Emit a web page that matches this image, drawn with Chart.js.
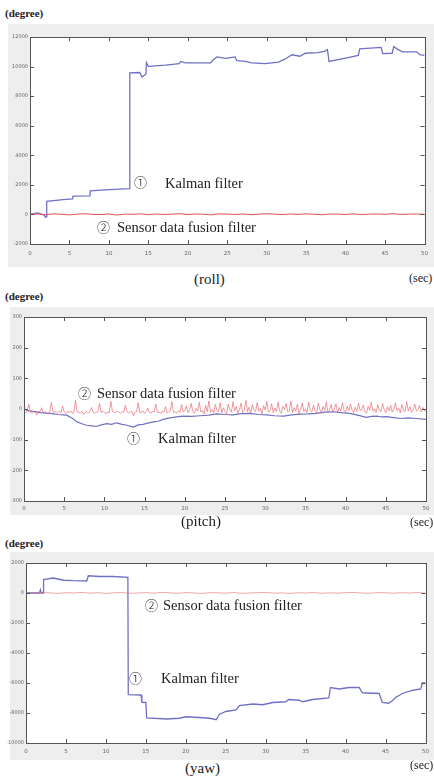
<!DOCTYPE html>
<html><head><meta charset="utf-8">
<script src="https://cdn.jsdelivr.net/npm/chart.js@4"></script>
<style>
body{margin:0;width:434px;height:776px;background:#fff;position:relative;overflow:hidden;font-family:"Liberation Serif","DejaVu Serif",serif;}
.panel{position:absolute;background:#eeeeee;}
canvas{position:absolute;display:block;}
.t{position:absolute;white-space:nowrap;color:#222;line-height:1;}
.deg{font-size:11px;font-weight:bold;}
.cap{font-size:15px;}
.sec{font-size:12px;}
.ann{font-size:14.5px;}
.ci{font-family:"Noto Sans CJK JP","DejaVu Sans",sans-serif;font-size:13px;font-weight:300;}
</style></head>
<body>
<div class="panel" style="left:8px;top:24px;width:426px;height:243px;"></div>
<div class="panel" style="left:10px;top:307px;width:424px;height:208px;"></div>
<div class="panel" style="left:10px;top:552px;width:424px;height:208px;"></div>
<canvas id="c1" width="434" height="243" style="left:0;top:24px;"></canvas>
<canvas id="c2" width="434" height="208" style="left:0;top:307px;"></canvas>
<canvas id="c3" width="434" height="208" style="left:0;top:552px;"></canvas>

<div class="t deg" style="left:5px;top:8px;">(degree)</div>
<div class="t cap" style="left:194px;top:272px;">(roll)</div>
<div class="t sec" style="left:409px;top:272px;">(sec)</div>

<div class="t deg" style="left:5px;top:291px;">(degree)</div>
<div class="t cap" style="left:181px;top:514px;">(pitch)</div>
<div class="t sec" style="left:410px;top:516px;">(sec)</div>

<div class="t deg" style="left:5px;top:538px;">(degree)</div>
<div class="t cap" style="left:185px;top:761px;">(yaw)</div>
<div class="t sec" style="left:410px;top:759px;">(sec)</div>

<!-- annotations -->
<div class="t ci" style="left:134px;top:175px;">①</div>
<div class="t ann" style="left:165px;top:176px;">Kalman filter</div>
<div class="t ci" style="left:97px;top:220px;">②</div>
<div class="t ann" style="left:117px;top:220px;">Sensor data fusion filter</div>

<div class="t ci" style="left:78px;top:386px;">②</div>
<div class="t ann" style="left:97px;top:386px;">Sensor data fusion filter</div>
<div class="t ci" style="left:127px;top:431px;">①</div>
<div class="t ann" style="left:158px;top:431px;">Kalman filter</div>

<div class="t ci" style="left:145px;top:598px;">②</div>
<div class="t ann" style="left:163px;top:598px;">Sensor data fusion filter</div>
<div class="t ci" style="left:129px;top:671px;">①</div>
<div class="t ann" style="left:161px;top:671px;">Kalman filter</div>

<script>
// ---------- data ----------
const timeTicks = [0,5,10,15,20,25,30,35,40,45,50];

const rollYTicks = [12000,10000,8000,6000,4000,2000,0,-2000];
const rollKalmanT = [0,1,1.8,1.95,2.08,2.12,4.2,5.4,5.45,7.6,7.65,10,12.6,12.65,13.9,14.2,14.7,14.75,15,17.2,18.9,19.1,19.7,22.9,23.1,23.7,24.8,26,26.2,27.3,28.1,29.8,31.5,32.3,33.2,34.2,34.9,36.5,37.4,37.7,37.9,40.3,41.6,41.8,44.5,44.7,45.9,46.1,46.5,47.2,49,49.4,50];
const rollKalmanV = [0,100,-50,-200,-150,880,1000,1050,1240,1250,1600,1680,1750,9580,9600,9300,9500,10280,10020,10100,10200,10350,10250,10250,10400,10650,10550,10650,10400,10350,10250,10200,10300,10500,10800,10700,10900,10950,11050,11150,10350,10600,10750,11200,11300,10880,10900,11350,11200,11000,11000,10800,10750];
const rollFusionV = [0,30,-20,40,10,-30,20,50,0,-10,30,-40,20,10,40,-20,30,0,20,50,-10,30,10,-30,40,20,0,30,-20,10,50,20,-10,30,0,40,10,-20,30,20,0,40,-10,20,30,10,50,0,20,30,10];

const pitchYTicks = [300,200,100,0,-100,-200,-300];
const pitchKalmanT = [0,0.6,1.2,2,3.2,4.2,5.3,6,6.6,7.2,7.8,8.4,9,9.6,10.3,10.9,11.5,12.2,12.8,13.6,14.2,14.8,15.4,16.1,16.7,17.3,18,18.6,19.2,19.8,20.8,21.9,23,24,25,26,27,28.1,29.2,30.2,31.2,32.3,33.3,34.3,35.4,36.4,37.4,38.5,39.5,40.5,41.5,42.6,43.2,43.9,44.5,45.1,46,46.8,47.8,48.8,50];
const pitchKalmanV = [0,-6,-8,-12,-14,-18,-20,-30,-42,-48,-53,-55,-57,-52,-48,-50,-45,-50,-53,-59,-52,-50,-46,-42,-40,-34,-30,-27,-25,-23,-24,-22,-20,-16,-18,-19,-15,-14,-18,-19,-22,-23,-19,-17,-16,-14,-10,-9,-12,-14,-20,-27,-24,-23,-26,-25,-28,-31,-29,-31,-34];
const pitchFusionV = [
 -8,-12,-6,15,-10,-14,-9,-11,-20,-7,-10,4,-13,-9,-12,-16,-8,22,-11,-10,
 -9,-13,-7,-12,10,-10,-15,-8,-11,-6,-14,-12,28,-9,-10,-13,-7,-18,-11,-9,
 -12,-8,5,-10,-14,-11,-9,18,-12,-7,-10,-16,-9,-13,25,-8,-11,-12,-6,-10,
 -14,-9,-11,12,-8,-13,-10,-7,-22,-11,-9,20,-12,-10,-6,-14,-9,3,-11,-13,
 -8,-10,16,-12,-9,-15,-7,-11,8,-13,-10,-6,24,-12,-9,-14,-5,-11,14,-10,
 -6,10,-12,-3,18,-9,-14,2,-7,22,-10,-4,-16,12,-8,26,-11,-2,-13,15,
 -5,-9,20,-12,4,-7,-18,16,-3,-10,24,-6,8,-14,-2,19,-11,-5,28,-8,
 6,-13,14,-4,-9,21,-7,2,-16,11,-3,25,-10,-5,17,-12,3,-8,22,-6,
 -14,9,-2,18,-9,-5,26,-11,4,-7,15,-15,-3,20,-8,1,-12,23,-4,-9,
 12,-6,-16,19,-2,-10,8,-5,24,-13,-3,14,-8,-1,17,-11,5,-7,21,-4,
 -10,10,-6,16,-3,-12,6,-8,19,-5,-2,13,-9,-14,9,-4,22,-7,0,-11,
 14,-5,-8,18,-3,-12,7,-6,12,-10,-2,20,-7,3,-13,15,-4,-9,24,-6,
 8,-11,-3,16,-7,-2,11,-9,5,-5,-8];

const yawYTicks = [2000,0,-2000,-4000,-6000,-8000,-10000];
const yawKalmanT = [0,1.7,1.8,1.9,2.15,2.2,3.4,4.7,5.9,7.6,7.8,9.2,10.9,12.75,12.8,14.4,14.5,15.0,15.1,17.6,19.2,20,21.7,23,23.8,24.2,25,26.3,26.7,28.4,29.6,30.9,32.5,32.9,34.2,34.6,35.9,37.9,38.1,39.2,40.4,41.7,42.1,44.2,44.6,45.4,45.8,46.3,47.1,48.3,49.4,49.6,50];
const yawKalmanV = [0,0,200,0,0,890,1000,850,820,800,1150,1100,1100,1050,-6780,-6800,-7290,-7300,-8330,-8400,-8350,-8250,-8300,-8350,-8450,-8100,-7900,-7800,-7500,-7400,-7450,-7300,-7250,-7100,-7150,-7250,-7100,-7000,-6300,-6400,-6300,-6300,-6650,-6700,-7300,-7350,-7200,-6950,-6700,-6500,-6400,-6000,-6000];
const yawFusionV = [0,-20,30,10,-30,20,0,40,-10,20,-30,10,30,-20,0,20,-10,40,10,-20,30,0,-30,20,10,-10,30,-20,0,20,40,-10,10,-30,20,0,30,-20,10,-10,20,40,0,-20,30,10,-10,20,0,30,-10];

// ---------- helpers ----------
const KALMAN = 'rgb(112,112,196)';
const FUSION = 'rgb(225,80,85)';
function pts(T, V){ return V.map((v,i)=>({x:T[i], y:v})); }
function evenPts(V, step){ return V.map((v,i)=>({x:i*step, y:v})); }

const framePlugin = {
  id:'frame',
  beforeDraw(chart){
    const {ctx, chartArea:a} = chart;
    ctx.save(); ctx.fillStyle='#fff';
    ctx.fillRect(a.left, a.top, a.right-a.left, a.bottom-a.top);
    ctx.restore();
  },
  afterDraw(chart){
    const {ctx, chartArea:a} = chart;
    const xs = chart.scales.x, ys = chart.scales.y;
    ctx.save();
    ctx.strokeStyle='#555'; ctx.lineWidth=1;
    ctx.strokeRect(Math.round(a.left)+0.5, Math.round(a.top)+0.5, Math.round(a.right-a.left), Math.round(a.bottom-a.top));
    ctx.beginPath();
    xs.ticks.forEach(t=>{
      const px = Math.round(xs.getPixelForValue(t.value))+0.5;
      if (px < a.left+2 || px > a.right-2) return;
      ctx.moveTo(px, a.bottom); ctx.lineTo(px, a.bottom-4);
      ctx.moveTo(px, a.top); ctx.lineTo(px, a.top+4);
    });
    ys.ticks.forEach(t=>{
      const py = Math.round(ys.getPixelForValue(t.value))+0.5;
      if (py < a.top+2 || py > a.bottom-2) return;
      ctx.moveTo(a.left, py); ctx.lineTo(a.left+4, py);
      ctx.moveTo(a.right, py); ctx.lineTo(a.right-4, py);
    });
    ctx.stroke();
    ctx.restore();
  }
};

function makeChart(id, datasets, yTicks, lay){
  new Chart(document.getElementById(id), {
    type:'line',
    data:{datasets},
    options:{
      responsive:false, animation:false, parsing:false, normalized:true,
      layout:{padding:{top:lay.top, right:lay.right, left:0, bottom:0}},
      elements:{point:{radius:0}, line:{tension:0, borderWidth:1}},
      plugins:{legend:{display:false}, tooltip:{enabled:false}},
      scales:{
        x:{type:'linear', min:0, max:50,
           afterBuildTicks(s){ s.ticks = timeTicks.map(v=>({value:v})); },
           afterFit(s){ s.height = lay.xh; },
           grid:{display:false, drawTicks:false}, border:{display:false},
           ticks:{font:{size:5.5, family:'DejaVu Sans'}, color:'#666', padding:lay.xpad, maxRotation:0, autoSkip:false, callback:v=>String(v)}},
        y:{type:'linear', min:yTicks[yTicks.length-1], max:yTicks[0],
           afterBuildTicks(s){ s.ticks = yTicks.slice().reverse().map(v=>({value:v})); },
           afterFit(s){ s.width = lay.yw; },
           grid:{display:false, drawTicks:false}, border:{display:false},
           ticks:{font:{size:5, family:'DejaVu Sans'}, color:'#666', padding:2, autoSkip:false, callback:v=>String(v)}}
      }
    },
    plugins:[framePlugin]
  });
}

makeChart('c1', [
  {data:evenPts(rollFusionV,1), borderColor:FUSION, borderWidth:1},
  {data:pts(rollKalmanT, rollKalmanV), borderColor:KALMAN, borderWidth:1.3}
], rollYTicks, {top:13, right:7, xh:23, yw:30, xpad:6});

makeChart('c2', [
  {data:evenPts(pitchFusionV,0.2), borderColor:'rgba(232,105,112,0.85)', borderWidth:0.8},
  {data:pts(pitchKalmanT, pitchKalmanV), borderColor:KALMAN, borderWidth:1.2}
], pitchYTicks, {top:10, right:8, xh:14, yw:24, xpad:4});

makeChart('c3', [
  {data:evenPts(yawFusionV,1), borderColor:'rgba(225,110,110,0.6)', borderWidth:1},
  {data:pts(yawKalmanT, yawKalmanV), borderColor:KALMAN, borderWidth:1.3}
], yawYTicks, {top:11, right:7, xh:17, yw:26, xpad:5});
</script>
</body></html>
